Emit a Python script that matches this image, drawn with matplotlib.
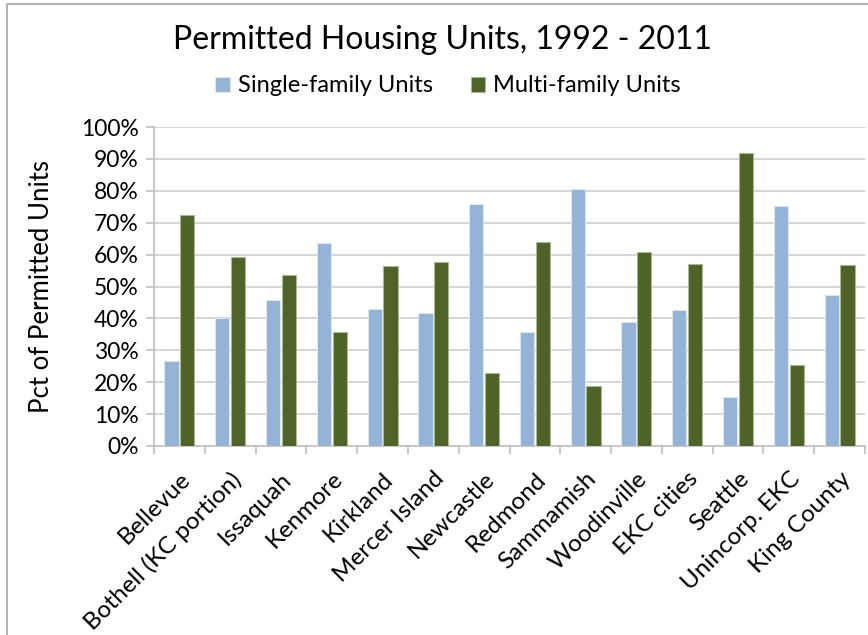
import matplotlib
matplotlib.use("Agg")
import matplotlib.pyplot as plt
import numpy as np
from matplotlib.patches import Rectangle
from matplotlib.ticker import PercentFormatter, FixedLocator

categories = ["Bellevue", "Bothell (KC portion)", "Issaquah", "Kenmore", "Kirkland",
              "Mercer Island", "Newcastle", "Redmond", "Sammamish", "Woodinville",
              "EKC cities", "Seattle", "Unincorp. EKC", "King County"]
single_family = [26.6, 40.0, 45.9, 63.6, 43.1, 41.7, 76.0, 35.6, 80.7, 38.9, 42.5, 15.3, 75.1, 47.3]
multi_family = [72.5, 59.2, 53.5, 35.6, 56.5, 57.6, 23.0, 63.8, 18.7, 60.7, 57.0, 92.0, 25.5, 56.6]
series_names = ["Single-family Units", "Multi-family Units"]
title = "Permitted Housing Units, 1992 - 2011"
ylabel = "Pct of Permitted Units"

plt.rcParams['font.family'] = ['Lato', 'DejaVu Sans']

W, H = 868, 635
fig = plt.figure(figsize=(W / 100, H / 100), dpi=100)
ax = fig.add_axes([154 / W, 1 - 446 / H, (865 - 154) / W, (446 - 127) / H])

# figure border
fig.patches.append(Rectangle((7 / W, -0.1), 1.2, 1 - 4 / H + 0.1, transform=fig.transFigure,
                             fill=False, edgecolor='#A6A6A6', linewidth=1.2))

x = np.arange(len(categories))
bw = 0.28
off = 0.155
ax.bar(x - off, single_family, width=bw, color='#95B3D7', edgecolor='#DCE6F1',
       linewidth=0.8, label=series_names[0], zorder=3)
ax.bar(x + off, multi_family, width=bw, color='#4F6228', edgecolor='#A9B98F',
       linewidth=0.8, label=series_names[1], zorder=3)

ax.set_xlim(-0.5, len(categories) - 0.5)
ax.set_ylim(0, 100)
ax.yaxis.set_major_locator(FixedLocator(np.arange(0, 101, 10)))
ax.yaxis.set_major_formatter(PercentFormatter(decimals=0))
ax.grid(axis='y', color='#D0D0D0', linewidth=1.2, zorder=0)
ax.set_axisbelow(True)

for s in ['top', 'right']:
    ax.spines[s].set_visible(False)
for s in ['left', 'bottom']:
    ax.spines[s].set_color('#BFBFBF')
    ax.spines[s].set_linewidth(1.2)

ax.set_xticks(np.arange(-0.5, len(categories), 1.0))
ax.set_xticklabels([])
ax.set_xticks(x, minor=True)
ax.set_xticklabels(categories, minor=True, rotation=45, ha='right', rotation_mode='anchor',
                   fontsize=17.5, color='#000000')
ax.tick_params(axis='x', which='major', length=6, color='#BFBFBF', width=1.2)
ax.tick_params(axis='x', which='minor', length=0, pad=16)
ax.tick_params(axis='y', length=6, color='#BFBFBF', width=1.2, labelsize=16.5, pad=5)

ax.set_ylabel(ylabel, fontsize=18.5)
ax.yaxis.set_label_coords(-0.158 + 12 / 711, 0.5)

fig.text(442 / W, 1 - 40 / H, title, ha='center', va='center', fontsize=23)
fig.legend(loc='center', bbox_to_anchor=(448 / W, 1 - 86 / H), ncol=2, frameon=False,
           fontsize=17, handlelength=0.6, handleheight=0.6, handletextpad=0.35,
           columnspacing=1.6)

fig.savefig("out.png", dpi=100)
